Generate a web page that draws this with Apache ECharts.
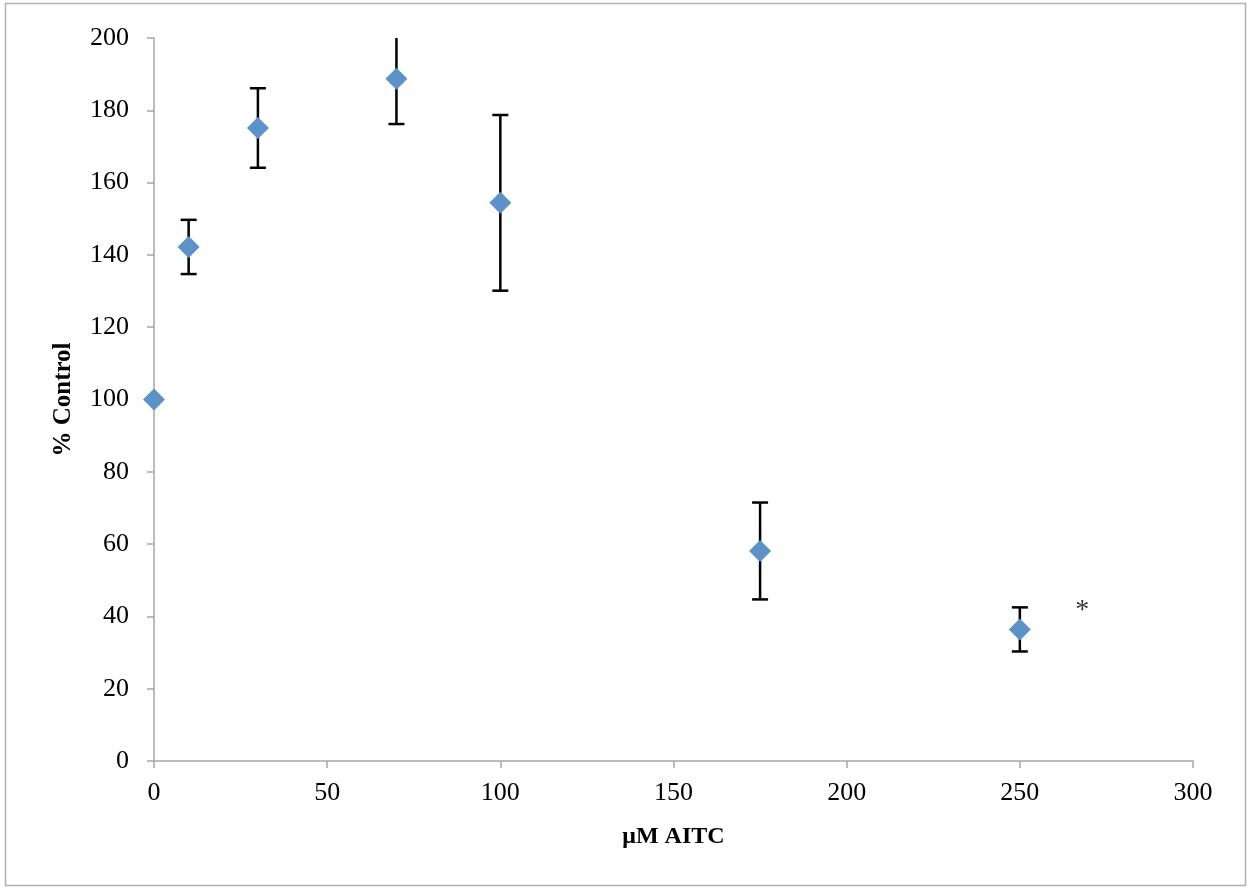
<!DOCTYPE html>
<html><head><meta charset="utf-8">
<script src="https://cdn.jsdelivr.net/npm/echarts@6/dist/echarts.min.js"></script>
<style>html,body{margin:0;padding:0;background:#fff}#c{width:1247px;height:888px}</style>
</head><body><div id="c"></div>
<script>
var doses = [0, 10, 30, 70, 100, 175, 250];
var meanPct = [100, 142.2, 175.1, 188.7, 154.4, 58.1, 36.4];
var errPct = [0, 7.5, 11, 12.5, 24.3, 13.4, 6.1];
var xTicks = [0, 50, 100, 150, 200, 250, 300];
var yTicks = [0, 20, 40, 60, 80, 100, 120, 140, 160, 180, 200];
var markX = [268];
var markY = [41.5];
var markText = ['*'];

var font = 'Liberation Serif';
var chart = echarts.init(document.getElementById('c'));
var pts = doses.map(function (d, i) { return [d, meanPct[i]]; });
var bars = doses.map(function (d, i) { return [d, meanPct[i] - errPct[i], meanPct[i] + errPct[i]]; });
var marks = markX.map(function (x, i) { return [x, markY[i], markText[i]]; });

chart.setOption({
  animation: false,
  backgroundColor: '#fff',
  graphic: [{
    type: 'rect', shape: { x: 5.5, y: 3.5, width: 1240, height: 882 },
    style: { fill: 'none', stroke: '#b0b0b0', lineWidth: 1.5 }, silent: true, z: -1
  }],
  grid: { left: 154, right: 54, top: 38, bottom: 127, containLabel: false },
  xAxis: {
    type: 'value', min: xTicks[0], max: xTicks[xTicks.length - 1], interval: 50,
    name: 'μM AITC', nameLocation: 'middle', nameGap: 64,
    nameTextStyle: { fontFamily: font, fontSize: 24, fontWeight: 'bold', color: '#000' },
    axisLine: { show: true, onZero: false, lineStyle: { color: '#a6a6a6', width: 1.5 } },
    axisTick: { show: true, length: 7, lineStyle: { color: '#a6a6a6', width: 1.5 } },
    axisLabel: { fontFamily: font, fontSize: 26, color: '#000', margin: 19 },
    splitLine: { show: false }
  },
  yAxis: {
    type: 'value', min: yTicks[0], max: yTicks[yTicks.length - 1], interval: 20,
    name: '% Control', nameLocation: 'middle', nameGap: 78, nameRotate: 90,
    nameTextStyle: { fontFamily: font, fontSize: 25, fontWeight: 'bold', color: '#000' },
    axisLine: { show: true, lineStyle: { color: '#a6a6a6', width: 1.5 } },
    axisTick: { show: true, length: 7, lineStyle: { color: '#a6a6a6', width: 1.5 } },
    axisLabel: { fontFamily: font, fontSize: 26, color: '#000', margin: 25 },
    splitLine: { show: false }
  },
  series: [
    {
      type: 'custom', clip: true, z: 2,
      data: bars,
      renderItem: function (params, api) {
        var x = api.value(0), lo = api.value(1), hi = api.value(2);
        if (hi === lo) return { type: 'group', children: [] };
        var pLo = api.coord([x, lo]), pHi = api.coord([x, hi]);
        var hw = 8;
        var st = { stroke: '#000', lineWidth: 2.5 };
        return { type: 'group', children: [
          { type: 'line', shape: { x1: pLo[0], y1: pLo[1], x2: pHi[0], y2: pHi[1] }, style: st },
          { type: 'line', shape: { x1: pLo[0] - hw, y1: pLo[1], x2: pLo[0] + hw, y2: pLo[1] }, style: st },
          { type: 'line', shape: { x1: pHi[0] - hw, y1: pHi[1], x2: pHi[0] + hw, y2: pHi[1] }, style: st }
        ] };
      }
    },
    {
      type: 'scatter', data: pts, symbol: 'diamond', symbolSize: [22, 22], z: 3,
      itemStyle: { color: '#5b93c9', opacity: 1 }
    },
    {
      type: 'scatter', data: marks, symbol: 'circle', symbolSize: 2, z: 4,
      itemStyle: { color: 'rgba(0,0,0,0)' },
      label: { show: true, position: 'inside', formatter: function (p) { return p.value[2]; },
        fontFamily: font, fontSize: 28, color: '#000' }
    }
  ]
});
</script></body></html>
